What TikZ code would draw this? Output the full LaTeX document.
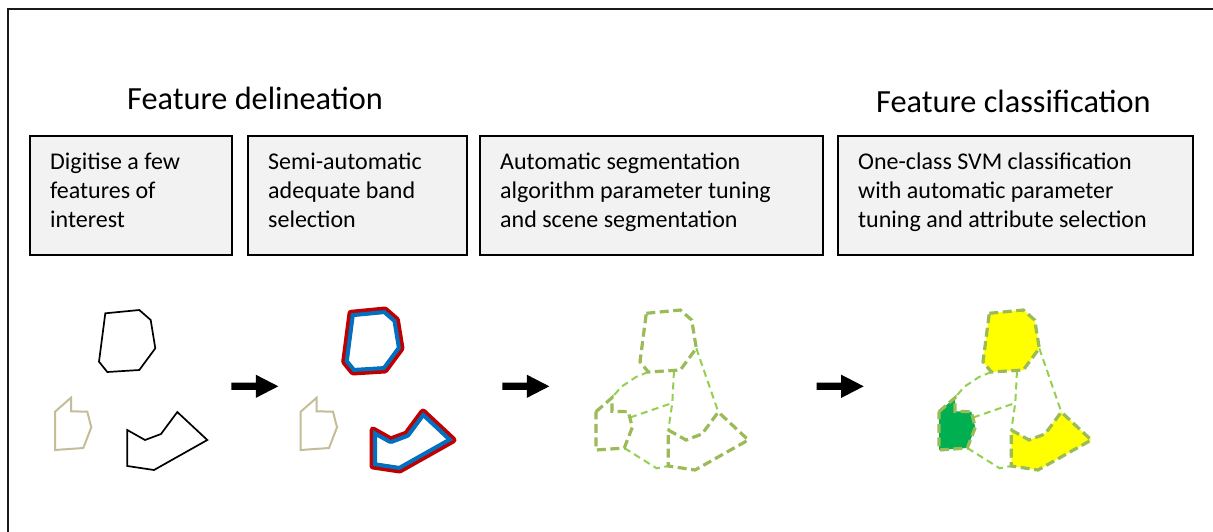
\documentclass[tikz,border=0pt]{standalone}
\usepackage{fontspec}
\setmainfont{Carlito}
\definecolor{boxgray}{HTML}{F2F2F2}
\definecolor{framegray}{HTML}{1A1A1A}
\definecolor{tanline}{HTML}{C4BD97}
\definecolor{redline}{HTML}{C00000}
\definecolor{blueline}{HTML}{0070C0}
\definecolor{olive}{HTML}{9BBB59}
\definecolor{lightgreen}{HTML}{92D050}
\definecolor{classyellow}{HTML}{FFFF00}
\definecolor{classgreen}{HTML}{00B050}

% the three digitised outlines, in the coordinates of the first group;
% #1 is the path command, #2 its options
\newcommand\topPoly[2]{#1[#2] (105.3,313.3) -- (139.3,310) -- (150.7,320) -- (155.3,348.3) -- (139.3,370) -- (107.3,372) -- (99,361.7) -- cycle;}
\newcommand\tanPoly[2]{#1[#2] (55,411.7) -- (71,397.7) -- (71,411.3) -- (87.3,411.7) -- (91.3,427.3) -- (83.3,448) -- (55,450) -- cycle;}
\newcommand\lowPoly[2]{#1[#2] (127.3,430) -- (145,440) -- (161,434) -- (177.3,412) -- (207.3,440) -- (154,470) -- (127.3,466) -- cycle;}
% segment boundaries joining the outlines
\newcommand\drawSegLinks{%
  \draw[seglink] (107.3,372) -- (95,377) -- (80,387) -- (71,397.7);
  \draw[seglink] (133,371) -- (131.3,403) -- (127.3,430);
  \draw[seglink] (89,417.5) -- (131.3,403);
  \draw[seglink] (83.3,448) -- (115.7,468.3) -- (127.3,466);
  \draw[seglink] (155.3,348.3) -- (177.3,412);
}
% red outer ring with a blue band on the inner side of the outline
\newcommand\bandOutline[1]{%
  #1{\draw}{draw=redline, line width=7pt, line join=round}
  \begin{scope}
    #1{\path}{clip}
    #1{\draw}{draw=blueline, line width=8pt, line join=round}
  \end{scope}
}
% block arrow starting at x = #1
\newcommand\blockArrow[1]{\fill[black] (#1,382.7) -- ++(24.5,0) -- ++(0,-8) -- ++(22.5,11.6) -- ++(-22.5,11.6) -- ++(0,-8) -- ++(-24.5,0) -- cycle;}

\begin{document}
\begin{tikzpicture}[x=1pt,y=-1pt,
  stepbox/.style={draw=black, line width=1.8pt, fill=boxgray, anchor=north west,
    minimum height=119pt, inner sep=0pt},
  steptext/.style={anchor=base west, inner sep=0pt, font=\fontsize{24}{29}\selectfont},
  heading/.style={anchor=base west, inner sep=0pt, font=\fontsize{32.3}{38}\selectfont},
  digitised/.style={draw=black, line width=1.7pt, line join=miter},
  sandline/.style={draw=tanline, line width=2pt},
  segedge/.style={draw=olive, line width=3.2pt, dash pattern=on 9pt off 4.5pt},
  seglink/.style={draw=lightgreen, line width=2pt, dash pattern=on 7pt off 4.5pt}]
\clip (0,0) rectangle (1213,531);
\fill[white] (0,0) rectangle (1213,531);
\draw[framegray, line width=2pt] (8,9) rectangle (1240,560);

% headings
\node[heading] (hdel) at (127,109) {Feature delineation};
\node[heading] (hcls) at (876,112) {Feature classification};

% step boxes
\node[stepbox, minimum width=202pt] (b1) at (29,135) {};
\node[stepbox, minimum width=219pt] (b2) at (247,135) {};
\node[stepbox, minimum width=343pt] (b3) at (479,135) {};
\node[stepbox, minimum width=355pt] (b4) at (837,135) {};
\node[steptext] (t1) at (50,169) {\parbox[t]{190pt}{\raggedright Digitise a few\\features of\\interest}};
\node[steptext] (t2) at (268,169) {\parbox[t]{190pt}{\raggedright Semi-automatic\\adequate band\\selection}};
\node[steptext] (t3) at (500,169) {\parbox[t]{320pt}{\raggedright Automatic segmentation\\algorithm parameter tuning\\and scene segmentation}};
\node[steptext] (t4) at (858,169) {\parbox[t]{330pt}{\raggedright One-class SVM classification\\with automatic parameter\\tuning and attribute selection}};

% group 1: digitised features
\topPoly{\draw}{digitised}
\tanPoly{\draw}{sandline}
\lowPoly{\draw}{digitised}

\blockArrow{231.3}

% group 2: band selection outlines
\begin{scope}[xshift=245.7pt]
  \tanPoly{\draw}{sandline}
  \bandOutline{\topPoly}
  \bandOutline{\lowPoly}
\end{scope}

\blockArrow{502.3}

% group 3: scene segmentation
\begin{scope}[xshift=541pt]
  \drawSegLinks
  \topPoly{\draw}{segedge}
  \tanPoly{\draw}{segedge}
  \lowPoly{\draw}{segedge}
\end{scope}

\blockArrow{816.7}

% group 4: classified segments
\begin{scope}[xshift=884pt]
  \drawSegLinks
  \topPoly{\draw}{segedge, fill=classyellow}
  \tanPoly{\draw}{segedge, fill=classgreen}
  \lowPoly{\draw}{segedge, fill=classyellow}
\end{scope}
\end{tikzpicture}
\end{document}
